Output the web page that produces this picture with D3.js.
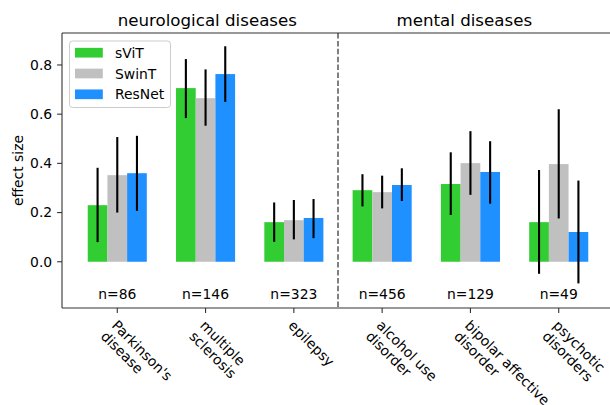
<!DOCTYPE html>
<html>
<head>
<meta charset="utf-8">
<script src="https://cdn.jsdelivr.net/npm/d3@7"></script>
<style>
  html, body { margin: 0; background: #fff; overflow: hidden; }
  svg { display: block; overflow: hidden; font-family: "DejaVu Sans", sans-serif; }
</style>
</head>
<body>
<div id="fig"></div>
<script>
// data
let categories = ["Parkinson's\ndisease", "multiple\nsclerosis", "epilepsy",
                  "alcohol use\ndisorder", "bipolar affective\ndisorder", "psychotic\ndisorders"];
let sampleSizes = [86, 146, 323, 456, 129, 49];
let models = ["sViT", "SwinT", "ResNet"];
let modelColors = ["#32cd32", "#c0c0c0", "#1e90ff"];

let svit   = [0.230, 0.706, 0.161, 0.291, 0.316, 0.161];
let svitLo = [0.080, 0.584, 0.081, 0.225, 0.190, -0.049];
let svitHi = [0.382, 0.824, 0.241, 0.356, 0.445, 0.373];

let swin   = [0.352, 0.665, 0.169, 0.283, 0.401, 0.397];
let swinLo = [0.200, 0.553, 0.091, 0.217, 0.272, 0.176];
let swinHi = [0.507, 0.782, 0.251, 0.350, 0.531, 0.620];

let resnet   = [0.360, 0.763, 0.178, 0.312, 0.365, 0.121];
let resnetLo = [0.207, 0.650, 0.096, 0.247, 0.236, -0.088];
let resnetHi = [0.512, 0.876, 0.255, 0.380, 0.490, 0.330];

let yTicks = [0.0, 0.2, 0.4, 0.6, 0.8];
let sections = [
    {name: "neurological diseases", x: 1.02},
    {name: "mental diseases", x: 3.93}
];
let sectionBreak = 2.5;

let width = 610;
let height = 405;
// the axes run a little past the right edge of the picture (no right spine visible)
let plotLeft = 62, plotRight = 614, plotTop = 33, plotBottom = 308;
let fontSize = 13.9;
let barWidth = 0.223;
let spineColor = '#333';

let svg = d3.select('#fig').append('svg')
    .attr('width', width)
    .attr('height', height);

let x = d3.scaleLinear()
    .domain([-0.626, categories.length - 1 + 0.626])
    .range([plotLeft, plotRight]);

let y = d3.scaleLinear()
    .domain([-0.188, 0.93])
    .range([plotBottom, plotTop]);

let series = [
    {name: models[0], color: modelColors[0], v: svit, lo: svitLo, hi: svitHi},
    {name: models[1], color: modelColors[1], v: swin, lo: swinLo, hi: swinHi},
    {name: models[2], color: modelColors[2], v: resnet, lo: resnetLo, hi: resnetHi}
];

// bars
series.forEach((s, si) => {
    let off = (si - 1) * barWidth;
    svg.append('g').selectAll('rect')
        .data(s.v)
        .join('rect')
        .attr('x', (d, i) => x(i + off - barWidth / 2))
        .attr('y', d => y(Math.max(d, 0)))
        .attr('width', x(barWidth) - x(0))
        .attr('height', d => Math.abs(y(d) - y(0)))
        .attr('fill', s.color);
});

// error bars
series.forEach((s, si) => {
    let off = (si - 1) * barWidth;
    svg.append('g').selectAll('line')
        .data(s.v)
        .join('line')
        .attr('x1', (d, i) => x(i + off))
        .attr('x2', (d, i) => x(i + off))
        .attr('y1', (d, i) => y(s.lo[i]))
        .attr('y2', (d, i) => y(s.hi[i]))
        .attr('stroke', '#000')
        .attr('stroke-width', 2.1);
});

// section divider
svg.append('line')
    .attr('x1', x(sectionBreak)).attr('x2', x(sectionBreak))
    .attr('y1', plotTop).attr('y2', plotBottom)
    .attr('stroke', '#808080')
    .attr('stroke-width', 2)
    .attr('stroke-dasharray', '5.5,2.4');

// n labels
svg.append('g').selectAll('text')
    .data(sampleSizes)
    .join('text')
    .attr('x', (d, i) => x(i))
    .attr('y', y(-0.152))
    .attr('text-anchor', 'middle')
    .attr('font-size', fontSize)
    .attr('fill', '#000')
    .text(d => `n=${d}`);

// spines: left, bottom, top
svg.append('line')
    .attr('x1', plotLeft).attr('x2', plotLeft)
    .attr('y1', plotTop).attr('y2', plotBottom)
    .attr('stroke', spineColor).attr('stroke-width', 1.1);
svg.append('line')
    .attr('x1', plotLeft).attr('x2', width + 10)
    .attr('y1', plotBottom).attr('y2', plotBottom)
    .attr('stroke', spineColor).attr('stroke-width', 1.1);
svg.append('line')
    .attr('x1', plotLeft).attr('x2', width + 10)
    .attr('y1', plotTop).attr('y2', plotTop)
    .attr('stroke', spineColor).attr('stroke-width', 1.1);

// y axis ticks and labels
svg.append('g').selectAll('line')
    .data(yTicks)
    .join('line')
    .attr('x1', plotLeft - 4.9).attr('x2', plotLeft)
    .attr('y1', d => y(d)).attr('y2', d => y(d))
    .attr('stroke', spineColor).attr('stroke-width', 1.1);
svg.append('g').selectAll('text')
    .data(yTicks)
    .join('text')
    .attr('x', plotLeft - 9.8)
    .attr('y', d => y(d))
    .attr('dy', '0.35em')
    .attr('text-anchor', 'end')
    .attr('font-size', fontSize)
    .attr('fill', '#000')
    .text(d3.format('.1f'));

svg.append('text')
    .attr('transform', `translate(23,${(plotTop + plotBottom) / 2}) rotate(-90)`)
    .attr('text-anchor', 'middle')
    .attr('font-size', fontSize)
    .text('effect size');

// x axis ticks and rotated labels
svg.append('g').selectAll('line')
    .data(categories)
    .join('line')
    .attr('x1', (d, i) => x(i)).attr('x2', (d, i) => x(i))
    .attr('y1', plotBottom).attr('y2', plotBottom + 4.9)
    .attr('stroke', spineColor).attr('stroke-width', 1.1);

let labels = svg.append('g').selectAll('text')
    .data(categories)
    .join('text')
    .attr('transform', (d, i) => `translate(${x(i) + 2},${plotBottom + 10}) rotate(45)`)
    .attr('font-size', fontSize)
    .attr('fill', '#000');
labels.each(function(d) {
    let t = d3.select(this);
    d.split('\n').forEach((line, k) => {
        t.append('tspan')
            .attr('x', 0)
            .attr('dy', k === 0 ? '0.85em' : '1.1em')
            .text(line);
    });
});

// section titles
svg.append('g').selectAll('text')
    .data(sections)
    .join('text')
    .attr('x', d => x(d.x))
    .attr('y', 26)
    .attr('text-anchor', 'middle')
    .attr('font-size', 16.67)
    .text(d => d.name);

// legend
let legend = svg.append('g');
legend.append('rect')
    .attr('x', 69.5).attr('y', 41)
    .attr('width', 101).attr('height', 66.5)
    .attr('rx', 3)
    .attr('fill', 'rgba(255,255,255,0.8)')
    .attr('stroke', '#cccccc')
    .attr('stroke-width', 1);
let items = legend.selectAll('g')
    .data(series)
    .join('g')
    .attr('transform', (d, i) => `translate(75,${52.7 + i * 20.8})`);
items.append('rect')
    .attr('x', 0).attr('y', -4.85)
    .attr('width', 27.8).attr('height', 9.7)
    .attr('fill', d => d.color);
items.append('text')
    .attr('x', 40)
    .attr('y', 5)
    .attr('font-size', fontSize)
    .text(d => d.name);
</script>
</body>
</html>
